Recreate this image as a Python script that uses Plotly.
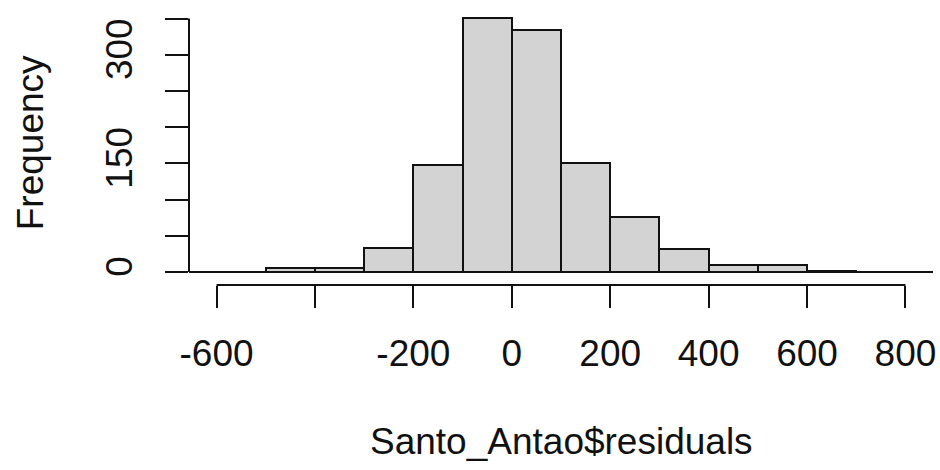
import plotly.graph_objects as go

bin_starts = [-500, -400, -300, -200, -100, 0, 100, 200, 300, 400, 500, 600]
counts = [6, 5, 33, 148, 351, 334, 151, 76, 32, 9, 9, 2]
bin_width = 100

x_tick_vals = [-600, -400, -200, 0, 200, 400, 600, 800]
x_tick_text = ["-600", "", "-200", "0", "200", "400", "600", "800"]
y_tick_vals = [0, 50, 100, 150, 200, 250, 300, 350]
y_tick_text = ["0", "", "", "150", "", "", "300", ""]

centers = [s + bin_width / 2 for s in bin_starts]

FONT = "Liberation Sans, Arial, sans-serif"
INK = "#111111"

fig = go.Figure()
fig.add_trace(go.Bar(
    x=centers, y=counts, width=bin_width,
    marker=dict(color="#D3D3D3", line=dict(color=INK, width=2)),
    hoverinfo="x+y",
))

fig.update_layout(
    width=940, height=470,
    margin=dict(l=189, r=7, t=7, b=185),
    paper_bgcolor="white", plot_bgcolor="white",
    showlegend=False,
    font=dict(family=FONT, size=38, color=INK),
    bargap=0,
    xaxis=dict(
        range=[-656, 856], showgrid=False, zeroline=False, showline=False,
        automargin=False,
        tickmode="array", tickvals=x_tick_vals, ticktext=x_tick_text,
        ticks="outside", ticklen=22, tickwidth=2, tickcolor=INK,
        ticklabelstandoff=14,
        tickfont=dict(family=FONT, size=37, color=INK),
    ),
    yaxis=dict(
        range=[-18, 366], showgrid=False, zeroline=False, showline=False,
        automargin=False,
        tickmode="array", tickvals=y_tick_vals, ticktext=y_tick_text,
        ticks="outside", ticklen=23, tickwidth=2, tickcolor=INK,
        tickangle=-90, ticklabelstandoff=18,
        tickfont=dict(family=FONT, size=37, color=INK),
    ),
    shapes=[
        dict(type="line", xref="paper", yref="y", x0=0, x1=1, y0=0, y1=0,
             line=dict(color=INK, width=2)),
        dict(type="line", xref="paper", yref="y", x0=0, x1=0, y0=0, y1=350,
             line=dict(color=INK, width=2)),
        dict(type="line", xref="x", yref="paper", x0=-600, x1=800, y0=0, y1=0,
             line=dict(color=INK, width=2)),
    ],
    annotations=[
        dict(text="Santo_Antao$residuals", xref="paper", yref="paper",
             x=0.5, y=-0.564, xanchor="center", yanchor="middle",
             showarrow=False, font=dict(family=FONT, size=37, color=INK)),
        dict(text="Frequency", xref="paper", yref="paper",
             x=-0.2137, y=0.51, xanchor="center", yanchor="middle", textangle=-90,
             showarrow=False, font=dict(family=FONT, size=37, color=INK)),
    ],
)

fig.write_html("out.html", config={"displayModeBar": False},
               post_script="document.body.style.margin='0';")
